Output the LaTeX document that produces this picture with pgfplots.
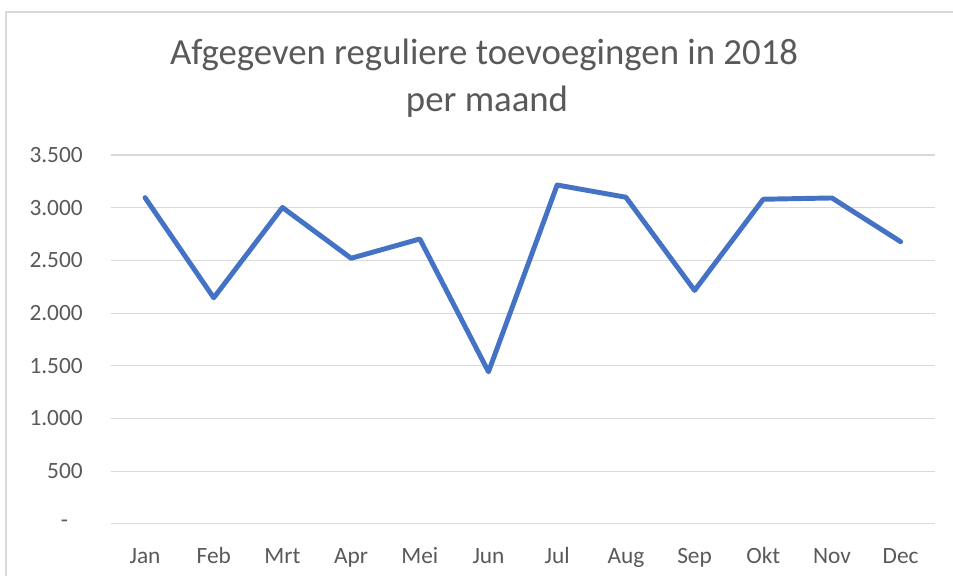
\documentclass[border=0pt]{standalone}
\usepackage{fontspec}
\setmainfont{Carlito}
\usepackage{pgfplots}
\pgfplotsset{compat=1.18}
\definecolor{txt}{HTML}{595959}
\definecolor{grd}{HTML}{D9D9D9}
\definecolor{ln}{HTML}{4472C4}
\begin{document}
\begin{tikzpicture}[x=0.75pt,y=0.75pt]
\useasboundingbox (0,0) rectangle (953,576);
\draw[grd, line width=1.1pt] (6,0) -- (6,564) -- (953,564);
\node[anchor=base, text=txt, font=\fontsize{27.6pt}{32pt}\selectfont, inner sep=0] at (484,511) {Afgegeven reguliere toevoegingen in 2018};
\node[anchor=base, text=txt, font=\fontsize{27.6pt}{32pt}\selectfont, inner sep=0] at (487,464.3) {per maand};
\begin{axis}[
  at={(83.03pt,39.08pt)}, anchor=south west,
  scale only axis, width=618.2pt, height=276.7pt,
  xmin=-0.5, xmax=11.5, ymin=0, ymax=3500,
  xtick={0,...,11},
  xticklabels={Jan,Feb,Mrt,Apr,Mei,Jun,Jul,Aug,Sep,Okt,Nov,Dec},
  ytick={0,500,...,3500},
  yticklabels={-\kern11pt,500,1.000,1.500,2.000,2.500,3.000,3.500},
  ymajorgrids, grid style={grd, line width=0.8pt},
  axis line style={draw=none},
  major tick length=0pt,
  tick label style={font=\fontsize{17.5pt}{20pt}\selectfont, text=txt},
  yticklabel style={anchor=east, inner sep=0pt, xshift=-20.8pt},
  xticklabel style={anchor=base, inner sep=0pt, yshift=-29.6pt},
  /pgf/number format/assume math mode=true,
  clip=false,
]
\addplot[ln, line width=3.7pt, line join=round, line cap=round] coordinates {
(0,3095) (1,2145) (2,3002) (3,2520) (4,2703) (5,1443) (6,3215) (7,3099) (8,2215) (9,3080) (10,3092) (11,2677)
};
\end{axis}
\end{tikzpicture}
\end{document}
